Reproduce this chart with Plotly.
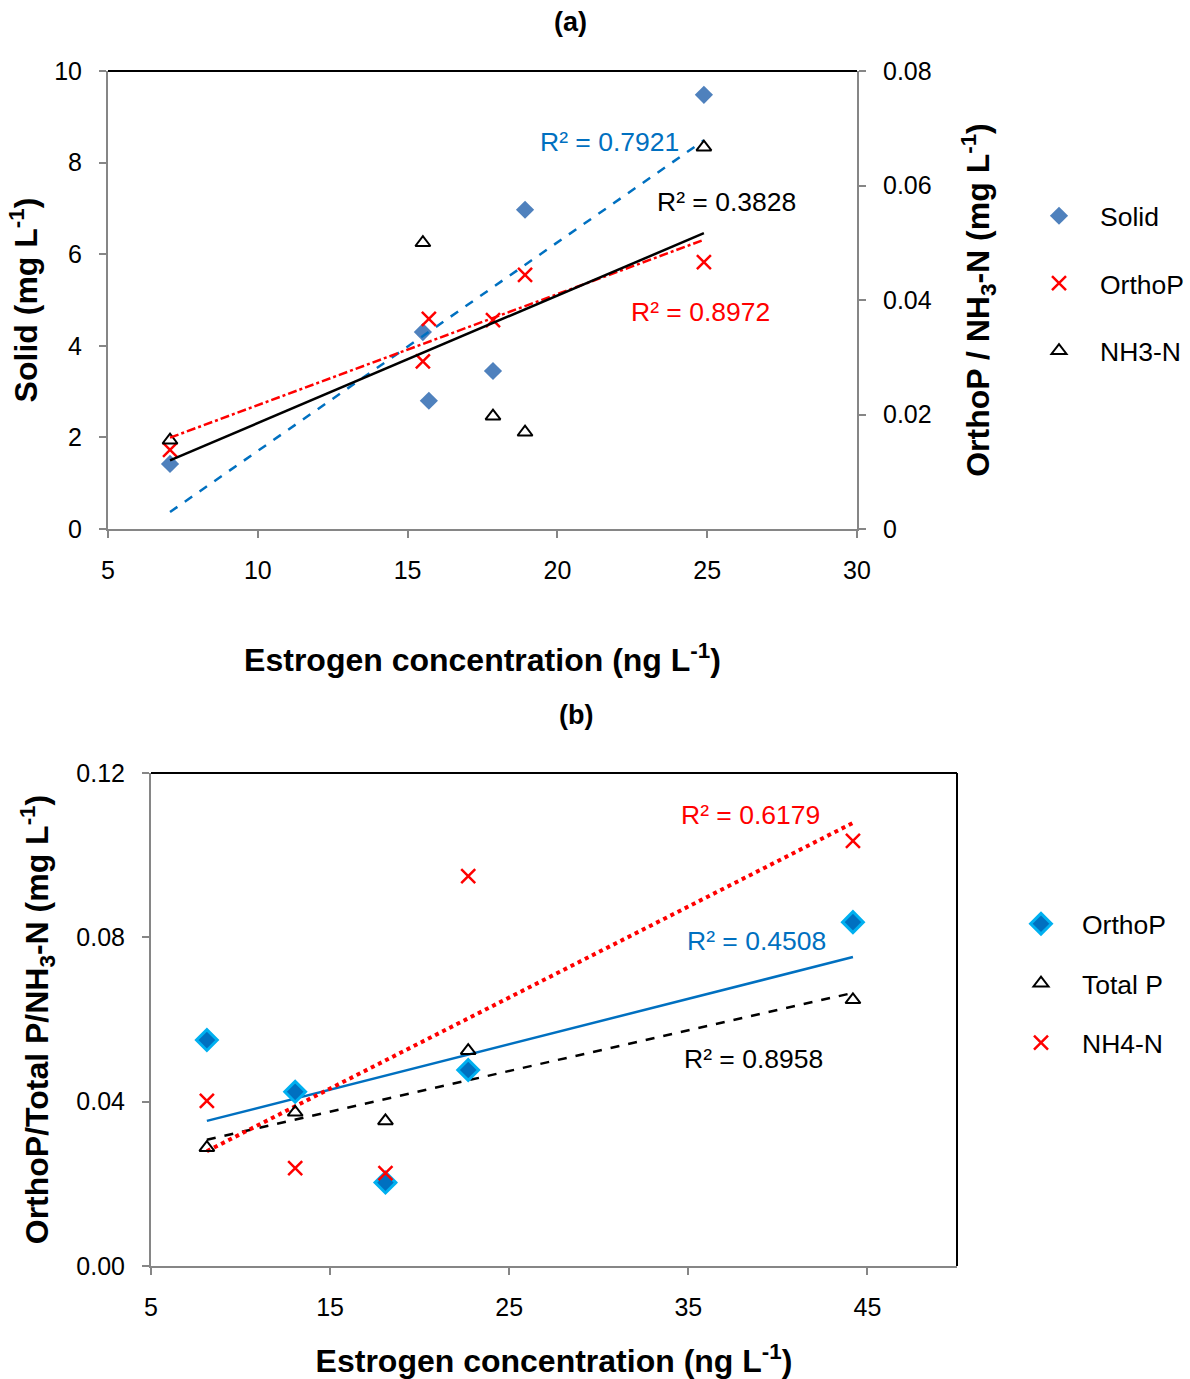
import numpy as np
import plotly.graph_objects as go

# ---- Panel (a) data ----
a_x = [7.07, 15.51, 15.71, 17.85, 18.92, 24.89]
a_solid = [1.42, 4.30, 2.80, 3.45, 6.97, 9.48]
a_orthop = [0.0138, 0.0293, 0.0367, 0.0365, 0.0444, 0.0466]
a_nh3_x = [7.07, 15.51, 17.85, 18.92, 24.89]
a_nh3 = [0.0155, 0.0500, 0.0197, 0.0169, 0.0667]
a_r2 = {"Solid": "R² = 0.7921", "OrthoP": "R² = 0.8972", "NH3-N": "R² = 0.3828"}

# ---- Panel (b) data ----
b_x = [8.12, 13.05, 18.09, 22.71, 44.19]
b_orthop = [0.0550, 0.0424, 0.0203, 0.0477, 0.0837]
b_totalp = [0.0288, 0.0374, 0.0353, 0.0524, 0.0648]
b_nh4 = [0.0402, 0.0238, 0.0226, 0.0949, 0.1035]
b_r2 = {"OrthoP": "R² = 0.4508", "Total P": "R² = 0.8958", "NH4-N": "R² = 0.6179"}

FONT = "Liberation Sans, Arial, sans-serif"
GRAY = "#868686"
BLUE = "#0070C0"
RED = "#FF0000"

W, H = 1190, 1379


def px(p):
    return p / W


def py(p):
    return 1 - p / H


def trend(xs, ys):
    k, b = np.polyfit(xs, ys, 1)
    xx = np.array([min(xs), max(xs)])
    return xx, k * xx + b


fig = go.Figure()

# ---- Panel (a) markers ----
fig.add_trace(go.Scatter(x=a_x, y=a_solid, mode="markers", name="Solid",
                         xaxis="x", yaxis="y", legend="legend", legendgroup="s",
                         marker=dict(symbol="diamond", size=14, color="#4F81BD")))
fig.add_trace(go.Scatter(x=a_x, y=a_orthop, mode="markers", name="OrthoP",
                         xaxis="x", yaxis="y2", legend="legend", legendgroup="o",
                         marker=dict(symbol="x-thin", size=14, color=RED,
                                     line=dict(color=RED, width=2.5))))
fig.add_trace(go.Scatter(x=a_nh3_x, y=a_nh3, mode="markers", name="NH3-N",
                         xaxis="x", yaxis="y2", legend="legend", legendgroup="n",
                         marker=dict(symbol="triangle-up-open", size=13, color="black",
                                     line=dict(color="black", width=2))))

# ---- Panel (a) linear fits ----
tx, ty = trend(a_x, a_solid)
fig.add_trace(go.Scatter(x=tx, y=ty, mode="lines", showlegend=False, xaxis="x", yaxis="y",
                         line=dict(color=BLUE, width=2.5, dash="dash")))
tx, ty = trend(a_x, a_orthop)
fig.add_trace(go.Scatter(x=tx, y=ty, mode="lines", showlegend=False, xaxis="x", yaxis="y2",
                         line=dict(color=RED, width=2.5, dash="dashdot")))
tx, ty = trend(a_nh3_x, a_nh3)
fig.add_trace(go.Scatter(x=tx, y=ty, mode="lines", showlegend=False, xaxis="x", yaxis="y2",
                         line=dict(color="black", width=2.5)))

# ---- Panel (b) linear fits ----
tx, ty = trend(b_x, b_orthop)
fig.add_trace(go.Scatter(x=tx, y=ty, mode="lines", showlegend=False, xaxis="x2", yaxis="y3",
                         line=dict(color=BLUE, width=2.5)))
tx, ty = trend(b_x, b_totalp)
fig.add_trace(go.Scatter(x=tx, y=ty, mode="lines", showlegend=False, xaxis="x2", yaxis="y3",
                         line=dict(color="black", width=2.5, dash="dash")))
tx, ty = trend(b_x, b_nh4)
fig.add_trace(go.Scatter(x=tx, y=ty, mode="lines", showlegend=False, xaxis="x2", yaxis="y3",
                         line=dict(color=RED, width=4, dash="dot")))

# ---- Panel (b) markers ----
fig.add_trace(go.Scatter(x=b_x, y=b_orthop, mode="markers", name="OrthoP",
                         xaxis="x2", yaxis="y3", legend="legend2", legendgroup="bo",
                         marker=dict(symbol="diamond", size=16, color=BLUE,
                                     line=dict(color="#00B0F0", width=3))))
fig.add_trace(go.Scatter(x=b_x, y=b_totalp, mode="markers", name="Total P",
                         xaxis="x2", yaxis="y3", legend="legend2", legendgroup="bt",
                         marker=dict(symbol="triangle-up-open", size=13, color="black",
                                     line=dict(color="black", width=2))))
fig.add_trace(go.Scatter(x=b_x, y=b_nh4, mode="markers", name="NH4-N",
                         xaxis="x2", yaxis="y3", legend="legend2", legendgroup="bn",
                         marker=dict(symbol="x-thin", size=14, color=RED,
                                     line=dict(color=RED, width=2.5))))

tick_font = dict(family=FONT, size=25, color="black")
title_font = dict(family=FONT, size=32, color="black")
axis_common = dict(showline=True, linecolor=GRAY, linewidth=2, ticks="outside",
                   ticklen=7, tickcolor=GRAY, tickwidth=2, showgrid=False,
                   zeroline=False, tickfont=tick_font, automargin=False)

fig.update_layout(
    width=W, height=H, margin=dict(l=0, r=0, t=0, b=0, autoexpand=False),
    paper_bgcolor="white", plot_bgcolor="white",
    font=dict(family=FONT, color="black"),
    xaxis=dict(domain=[px(108), px(857)], range=[5, 30], dtick=5, anchor="y",
               ticklabelstandoff=11,
               title=dict(text="<b>Estrogen concentration (ng L<sup>-1</sup>)</b>",
                          font=title_font, standoff=66), **axis_common),
    yaxis=dict(domain=[py(529), py(71)], range=[0, 10], dtick=2, anchor="x",
               ticklabelstandoff=12,
               title=dict(text="<b>Solid (mg L<sup>-1</sup>)</b>", font=title_font, standoff=7),
               **axis_common),
    yaxis2=dict(domain=[py(529), py(71)], range=[0, 0.08], dtick=0.02, anchor="x",
                overlaying="y", side="right", ticklabelstandoff=12,
                title=dict(text="<b>OrthoP / NH<sub>3</sub>-N (mg L<sup>-1</sup>)</b>",
                           font=title_font, standoff=36),
                **axis_common),
    xaxis2=dict(domain=[px(151), px(957)], range=[5, 50], tickvals=[5, 15, 25, 35, 45],
                anchor="y3", ticklabelstandoff=11,
                title=dict(text="<b>Estrogen concentration (ng L<sup>-1</sup>)</b>",
                           font=title_font, standoff=33), **axis_common),
    yaxis3=dict(domain=[py(1266), py(773)], range=[0, 0.12], tickvals=[0, 0.04, 0.08, 0.12],
                tickformat=".2f", anchor="x2", ticklabelstandoff=12,
                title=dict(text="<b>OrthoP/Total P/NH<sub>3</sub>-N (mg L<sup>-1</sup>)</b>",
                           font=title_font, standoff=18),
                **axis_common),
    legend=dict(x=px(1018), y=py(192), xanchor="left", yanchor="top",
                font=dict(family=FONT, size=26.5), tracegroupgap=30, itemwidth=72,
                bgcolor="rgba(0,0,0,0)"),
    legend2=dict(x=px(1000), y=py(900), xanchor="left", yanchor="top",
                 font=dict(family=FONT, size=26.5), tracegroupgap=22, itemwidth=72,
                 bgcolor="rgba(0,0,0,0)"),
)

# Black top border of panel (a); top and right borders of panel (b)
fig.add_shape(type="line", xref="x domain", yref="y domain", x0=0, x1=1, y0=1, y1=1,
              line=dict(color="black", width=2))
fig.add_shape(type="line", xref="x2 domain", yref="y3 domain", x0=0, x1=1, y0=1, y1=1,
              line=dict(color="black", width=2))
fig.add_shape(type="line", xref="x2 domain", yref="y3 domain", x0=1, x1=1, y0=0, y1=1,
              line=dict(color="black", width=2))

# Panel labels
for label, cx, cy in [("<b>(a)</b>", 570, 22), ("<b>(b)</b>", 576, 715)]:
    fig.add_annotation(text=label, x=px(cx), y=py(cy), xref="paper", yref="paper",
                       xanchor="center", yanchor="middle", showarrow=False,
                       font=dict(family=FONT, size=27))

# Coefficient of determination labels
r2_labels = [
    (a_r2["Solid"], 609, 142, BLUE),
    (a_r2["NH3-N"], 726, 202, "black"),
    (a_r2["OrthoP"], 700, 312, RED),
    (b_r2["NH4-N"], 750, 815, RED),
    (b_r2["OrthoP"], 756, 941, BLUE),
    (b_r2["Total P"], 753, 1059, "black"),
]
for txt, cx, cy, col in r2_labels:
    fig.add_annotation(text=txt, x=px(cx), y=py(cy), xref="paper", yref="paper",
                       xanchor="center", yanchor="middle", showarrow=False,
                       font=dict(family=FONT, size=26.5, color=col))

fig.write_html("out.html")
